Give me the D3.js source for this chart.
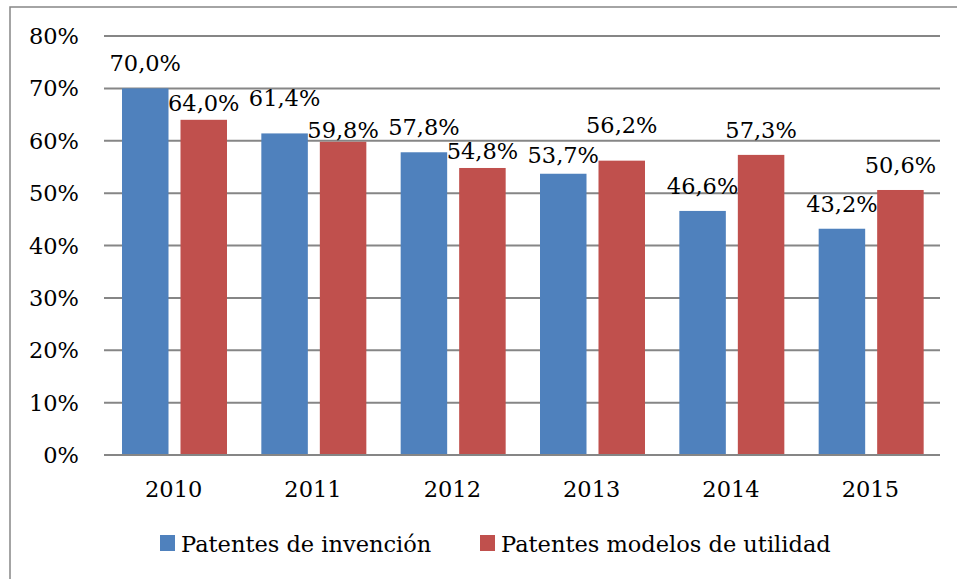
<!doctype html>
<html lang="es">
<head>
    <meta charset="UTF-8">
    <title>Patentes</title>
    <style>
        body { margin: 0; background: #fff; }
        svg text { font-family: "DejaVu Serif", serif; font-size: 22.5px; fill: #000; }
        .grid line { stroke: #868686; stroke-width: 2px; }
    </style>
</head>
<body>
    <svg width="957" height="579"></svg>
    <script src="https://cdn.jsdelivr.net/npm/d3@7"></script>
    <script>
        const years = ["2010", "2011", "2012", "2013", "2014", "2015"];
        const seriesNames = ["Patentes de invención", "Patentes modelos de utilidad"];
        const invencion = [70.0, 61.4, 57.8, 53.7, 46.6, 43.2];
        const utilidad = [64.0, 59.8, 54.8, 56.2, 57.3, 50.6];
        const yTicks = [0, 10, 20, 30, 40, 50, 60, 70, 80];
        const colors = ["#4F81BD", "#C0504D"];

        // hand-placed label nudges (px), like in the original
        const nudge = { "2010-1": 8, "2011-0": -10, "2011-1": 13, "2012-1": 8, "2013-0": 6, "2013-1": -11 };

        const svg = d3.select("svg");

        // outer chart frame (only top and left edges show)
        svg.append("path")
            .attr("d", "M10,600 L10,7 L960,7")
            .attr("fill", "none")
            .attr("stroke", "#868686")
            .attr("stroke-width", 1.5);

        const x0 = d3.scaleBand().domain(years).range([104, 940]);
        const x1 = d3.scaleBand().domain([0, 1]).range([18, 123]).paddingInner(0.205);
        const y = d3.scaleLinear().domain([0, 80]).range([455, 36]);

        const grid = svg.append("g").attr("class", "grid");
        grid.selectAll("line").data(yTicks).join("line")
            .attr("x1", 104).attr("x2", 940)
            .attr("y1", d => y(d)).attr("y2", d => y(d));

        svg.append("g").selectAll("text").data(yTicks).join("text")
            .attr("x", 79).attr("y", d => y(d)).attr("dy", "0.36em")
            .attr("text-anchor", "end")
            .text(d => d + "%");

        const rows = years.map((yr, i) => ({ year: yr, vals: [invencion[i], utilidad[i]] }));
        const fmt = v => v.toFixed(1).replace(".", ",") + "%";

        const groups = svg.append("g").selectAll("g").data(rows).join("g")
            .attr("transform", d => "translate(" + x0(d.year) + ",0)");

        groups.selectAll("rect").data(d => d.vals).join("rect")
            .attr("x", (v, j) => x1(j))
            .attr("width", x1.bandwidth())
            .attr("y", v => y(v))
            .attr("height", v => y(0) - y(v))
            .attr("fill", (v, j) => colors[j]);

        groups.selectAll("text").data(d => d.vals.map((v, j) => ({ v, j, year: d.year }))).join("text")
            .attr("x", d => x1(d.j) + x1.bandwidth() / 2)
            .attr("y", d => y(d.v) - 17 + (nudge[d.year + "-" + d.j] || 0))
            .attr("text-anchor", "middle")
            .text(d => fmt(d.v));

        // baseline over the bars
        svg.append("line")
            .attr("x1", 104).attr("x2", 940)
            .attr("y1", y(0)).attr("y2", y(0))
            .attr("stroke", "#868686").attr("stroke-width", 2);

        svg.append("g").selectAll("text").data(years).join("text")
            .attr("x", d => x0(d) + x0.bandwidth() / 2)
            .attr("y", 497)
            .attr("text-anchor", "middle")
            .text(d => d);

        // legend
        const legX = [160, 480];
        const leg = svg.append("g").selectAll("g").data(seriesNames).join("g")
            .attr("transform", (d, i) => "translate(" + legX[i] + ",535)");
        leg.append("rect").attr("width", 15).attr("height", 16).attr("fill", (d, i) => colors[i]);
        leg.append("text").attr("x", 21).attr("y", 17).text(d => d);
    </script>
</body>
</html>
